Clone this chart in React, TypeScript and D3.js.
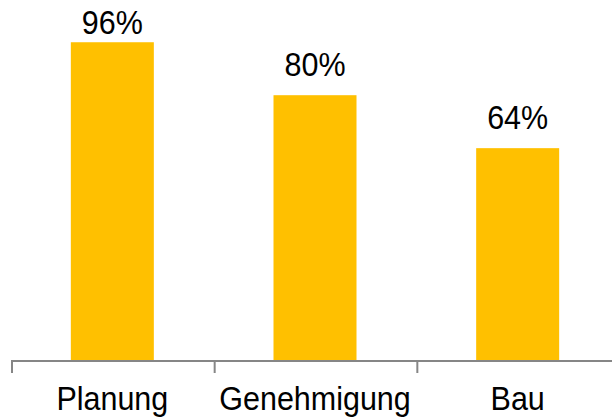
import React from "react";
import * as d3 from "d3";

const categories = ["Planung", "Genehmigung", "Bau"];
const values = [96, 80, 64];
const valueLabels = ["96%", "80%", "64%"];

const W = 612;
const H = 418;
const FS = 33.5;
const SX = 0.91;

function Label({ x, y, text }: { x: number; y: number; text: string }) {
  return (
    <text
      transform={`translate(${x},${y}) scale(${SX},1)`}
      textAnchor="middle"
      fontSize={FS}
      fill="#000"
    >
      {text}
    </text>
  );
}

export default function App() {
  const x = d3.scaleBand<string>().domain(categories).range([12, 620]).paddingInner(0).paddingOuter(0);
  const y = d3.scaleLinear().domain([0, 100]).range([360, 29]);
  const bw = 83;
  const baseY = y(0);
  const ticks = [...categories.map((c) => x(c) as number), 620];
  return (
    <svg
      width={W}
      height={H}
      style={{ position: "absolute", left: 0, top: 0, background: "#fff" }}
      fontFamily="'Liberation Sans', Arial, sans-serif"
    >
      {categories.map((c, i) => {
        const cx = (x(c) as number) + x.bandwidth() / 2 - 1;
        const ly = Math.max(33.5, y(values[i]) - 19.5);
        return (
          <g key={c}>
            <rect x={cx - bw / 2} y={y(values[i])} width={bw} height={baseY - y(values[i])} fill="#FFC000" />
            <Label x={cx} y={ly} text={valueLabels[i]} />
            <Label x={cx} y={410} text={c} />
          </g>
        );
      })}
      <line x1={12} x2={W} y1={baseY + 1} y2={baseY + 1} stroke="#868686" strokeWidth={2} />
      {ticks.map((t, i) => (
        <line key={i} x1={t} x2={t} y1={baseY} y2={baseY + 13} stroke="#868686" strokeWidth={2} />
      ))}
    </svg>
  );
}
